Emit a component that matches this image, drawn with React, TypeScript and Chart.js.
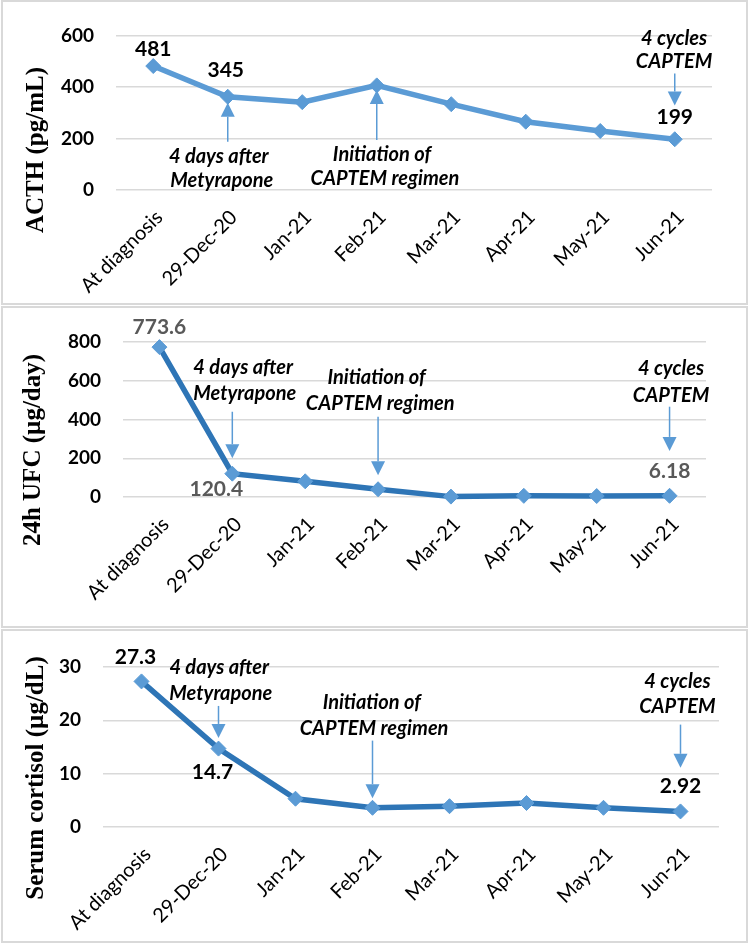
import React, { useEffect, useRef } from "react";
import { Chart, registerables } from "chart.js";

Chart.register(...registerables);

// ---------- data ----------
const CATEGORIES = ["At diagnosis", "29-Dec-20", "Jan-21", "Feb-21", "Mar-21", "Apr-21", "May-21", "Jun-21"];

const ACTH_VALUES = [481, 362, 341, 406, 333, 265, 229, 197];
const UFC_VALUES = [773.6, 120.4, 81, 40, 2, 6, 5, 6.18];
const CORTISOL_VALUES = [27.3, 14.7, 5.3, 3.6, 3.9, 4.5, 3.6, 2.92];

const ACTH_AXIS = { max: 600, step: 200 };
const UFC_AXIS = { max: 800, step: 200 };
const CORTISOL_AXIS = { max: 30, step: 10 };

const ACTH_TITLE = "ACTH (pg/mL)";
const UFC_TITLE = "24h UFC (µg/day)";
const CORTISOL_TITLE = "Serum cortisol (µg/dL)";

const ACTH_LABELS = ["481", "345", "199"];
const UFC_LABELS = ["773.6", "120.4", "6.18"];
const CORTISOL_LABELS = ["27.3", "14.7", "2.92"];
const LABELLED_INDEXES = [0, 1, 7];

const NOTE_DEC = ["4 days after", "Metyrapone"];
const NOTE_FEB = ["Initiation of", "CAPTEM regimen"];
const NOTE_JUN = ["4 cycles", "CAPTEM"];

// ---------- layout (positions in data units / pixels) ----------
type Note = { i: number; v: number; text: string };
type Arrow = { i: number; from: number; to: number };
type VLabel = { i: number; text: string; dx: number; dy: number };

interface Panel {
  values: number[];
  axis: { max: number; step: number };
  title: string;
  titlePos: [number, number];
  lineColor: string;
  pointColor: string;
  labelColor: string;
  vlabels: VLabel[];
  notes: Note[];
  arrows: Arrow[];
  boxTop: number;
  boxHeight: number;
  area: { left: number; right: number; top: number; bottom: number };
}

const W = 743;

const PANELS: Panel[] = [
  {
    values: ACTH_VALUES,
    axis: ACTH_AXIS,
    title: ACTH_TITLE,
    titlePos: [34, 148],
    lineColor: "#5B9BD5",
    pointColor: "#5B9BD5",
    labelColor: "#000000",
    vlabels: [
      { i: LABELLED_INDEXES[0], text: ACTH_LABELS[0], dx: 0, dy: -17 },
      { i: LABELLED_INDEXES[1], text: ACTH_LABELS[1], dx: -2, dy: -26 },
      { i: LABELLED_INDEXES[2], text: ACTH_LABELS[2], dx: 0, dy: -22 },
    ],
    notes: [
      { i: 0.88, v: 131, text: NOTE_DEC[0] },
      { i: 0.92, v: 35, text: NOTE_DEC[1] },
      { i: 3.07, v: 138, text: NOTE_FEB[0] },
      { i: 3.11, v: 46, text: NOTE_FEB[1] },
      { i: 6.99, v: 589, text: NOTE_JUN[0] },
      { i: 6.99, v: 498, text: NOTE_JUN[1] },
    ],
    arrows: [
      { i: 1, from: 187, to: 339 },
      { i: 3, from: 194, to: 388 },
      { i: 7, from: 452, to: 328 },
    ],
    boxTop: 0,
    boxHeight: 305,
    area: { left: 113, right: 709, top: 17, bottom: 188 },
  },
  {
    values: UFC_VALUES,
    axis: UFC_AXIS,
    title: UFC_TITLE,
    titlePos: [31, 142],
    lineColor: "#2E75B6",
    pointColor: "#5B9BD5",
    labelColor: "#595959",
    vlabels: [
      { i: LABELLED_INDEXES[0], text: UFC_LABELS[0], dx: 0, dy: -20 },
      { i: LABELLED_INDEXES[1], text: UFC_LABELS[1], dx: -16, dy: 16 },
      { i: LABELLED_INDEXES[2], text: UFC_LABELS[2], dx: 0, dy: -25 },
    ],
    notes: [
      { i: 1.15, v: 668, text: NOTE_DEC[0] },
      { i: 1.17, v: 532, text: NOTE_DEC[1] },
      { i: 2.98, v: 615, text: NOTE_FEB[0] },
      { i: 3.03, v: 480, text: NOTE_FEB[1] },
      { i: 7.02, v: 662, text: NOTE_JUN[0] },
      { i: 7.02, v: 523, text: NOTE_JUN[1] },
    ],
    arrows: [
      { i: 1, from: 440, to: 200 },
      { i: 3, from: 414, to: 112 },
      { i: 7, from: 466, to: 238 },
    ],
    boxTop: 306,
    boxHeight: 322,
    area: { left: 120, right: 703, top: 34, bottom: 189 },
  },
  {
    values: CORTISOL_VALUES,
    axis: CORTISOL_AXIS,
    title: CORTISOL_TITLE,
    titlePos: [34, 147],
    lineColor: "#2E75B6",
    pointColor: "#5B9BD5",
    labelColor: "#000000",
    vlabels: [
      { i: LABELLED_INDEXES[0], text: CORTISOL_LABELS[0], dx: -6, dy: -24 },
      { i: LABELLED_INDEXES[1], text: CORTISOL_LABELS[1], dx: -6, dy: 24 },
      { i: LABELLED_INDEXES[2], text: CORTISOL_LABELS[2], dx: 0, dy: -25 },
    ],
    notes: [
      { i: 1.01, v: 29.9, text: NOTE_DEC[0] },
      { i: 1.03, v: 25.0, text: NOTE_DEC[1] },
      { i: 2.99, v: 23.4, text: NOTE_FEB[0] },
      { i: 3.02, v: 18.4, text: NOTE_FEB[1] },
      { i: 6.96, v: 27.2, text: NOTE_JUN[0] },
      { i: 6.96, v: 22.6, text: NOTE_JUN[1] },
    ],
    arrows: [
      { i: 1, from: 22.7, to: 16.7 },
      { i: 3, from: 16.2, to: 5.4 },
      { i: 7, from: 19.2, to: 11.1 },
    ],
    boxTop: 629,
    boxHeight: 314,
    area: { left: 100, right: 716, top: 36, bottom: 196 },
  },
];

const BORDER = 2;

function PanelChart({ p }: { p: Panel }) {
  const ref = useRef<HTMLCanvasElement | null>(null);
  const H = p.boxHeight - 2 * BORDER;

  useEffect(() => {
    if (!ref.current) return;
    const annot = {
      id: "annot",
      afterDraw(chart: any) {
        const { ctx, chartArea } = chart;
        const xs = chart.scales.x;
        const ys = chart.scales.y;
        ctx.save();
        // axis title
        ctx.save();
        ctx.font = 'bold 25px "Liberation Serif"';
        ctx.fillStyle = "#000";
        ctx.textAlign = "center";
        ctx.textBaseline = "middle";
        ctx.translate(p.titlePos[0], p.titlePos[1]);
        ctx.rotate(-Math.PI / 2);
        ctx.fillText(p.title, 0, 0);
        ctx.restore();

        // category labels (rotated 45°)
        ctx.font = '20px Lato';
        ctx.fillStyle = "#000";
        ctx.textAlign = "right";
        ctx.textBaseline = "middle";
        CATEGORIES.forEach((c, i) => {
          const px = xs.getPixelForValue(i);
          ctx.save();
          ctx.translate(px + 6, chartArea.bottom + 24);
          ctx.rotate(-Math.PI / 4);
          ctx.fillText(c, 0, 0);
          ctx.restore();
        });

        // arrows
        ctx.strokeStyle = "#5B9BD5";
        ctx.fillStyle = "#5B9BD5";
        ctx.lineWidth = 1.5;
        for (const a of p.arrows) {
          const px = xs.getPixelForValue(a.i);
          const y1 = ys.getPixelForValue(a.from);
          const y2 = ys.getPixelForValue(a.to);
          const dir = Math.sign(y2 - y1);
          const head = 14;
          ctx.beginPath();
          ctx.moveTo(px, y1);
          ctx.lineTo(px, y2 - dir * head);
          ctx.stroke();
          ctx.beginPath();
          ctx.moveTo(px, y2);
          ctx.lineTo(px - 7, y2 - dir * head);
          ctx.lineTo(px + 7, y2 - dir * head);
          ctx.closePath();
          ctx.fill();
        }

        // notes
        ctx.font = 'italic bold 20px Lato';
        ctx.fillStyle = "#000";
        ctx.textAlign = "center";
        ctx.textBaseline = "middle";
        for (const n of p.notes) {
          ctx.fillText(n.text, xs.getPixelForValue(n.i), ys.getPixelForValue(n.v));
        }

        // value labels
        const meta = chart.getDatasetMeta(0);
        ctx.font = 'bold 21px Lato';
        ctx.fillStyle = p.labelColor;
        for (const l of p.vlabels) {
          const pt = meta.data[l.i];
          ctx.fillText(l.text, pt.x + l.dx, pt.y + l.dy);
        }
        ctx.restore();
      },
    };

    const chart = new Chart(ref.current, {
      type: "line",
      data: {
        labels: CATEGORIES,
        datasets: [
          {
            data: p.values,
            borderColor: p.lineColor,
            backgroundColor: p.pointColor,
            borderWidth: 5.5,
            pointStyle: "rectRot",
            pointRadius: 7.5,
            pointBackgroundColor: p.pointColor,
            pointBorderColor: p.pointColor,
            pointBorderWidth: 1,
            tension: 0,
            clip: false as any,
          },
        ],
      },
      options: {
        responsive: false,
        animation: false,
        devicePixelRatio: 1,
        layout: {
          padding: { left: 0, top: p.area.top, right: W - p.area.right, bottom: 0 },
        },
        plugins: {
          legend: { display: false },
          tooltip: { enabled: false },
        },
        scales: {
          x: {
            offset: true,
            grid: { display: false },
            border: { display: false },
            ticks: { display: false },
            afterFit: (s: any) => {
              s.height = H - p.area.bottom;
            },
          },
          y: {
            min: 0,
            max: p.axis.max,
            border: { display: false },
            grid: { color: "#d9d9d9", lineWidth: 1.5, drawTicks: false },
            ticks: {
              stepSize: p.axis.step,
              padding: 22,
              color: "#000",
              font: { family: "Lato", size: 19, weight: "bold" },
            },
            afterFit: (s: any) => {
              s.width = p.area.left;
            },
          },
        },
      },
      plugins: [annot],
    });
    return () => chart.destroy();
  }, []);

  return (
    <div
      style={{
        position: "absolute",
        left: 1,
        top: p.boxTop,
        width: 747,
        height: p.boxHeight,
        border: `${BORDER}px solid #d9d9d9`,
        boxSizing: "border-box",
        background: "#fff",
      }}
    >
      <canvas ref={ref} width={W} height={H} style={{ display: "block", width: W, height: H }} />
    </div>
  );
}

export default function App() {
  useEffect(() => {
    document.body.style.margin = "0";
  }, []);
  return (
    <div style={{ position: "absolute", left: 0, top: 0, width: 749, height: 944, background: "#fff" }}>
      {PANELS.map((p, k) => (
        <PanelChart key={k} p={p} />
      ))}
    </div>
  );
}
